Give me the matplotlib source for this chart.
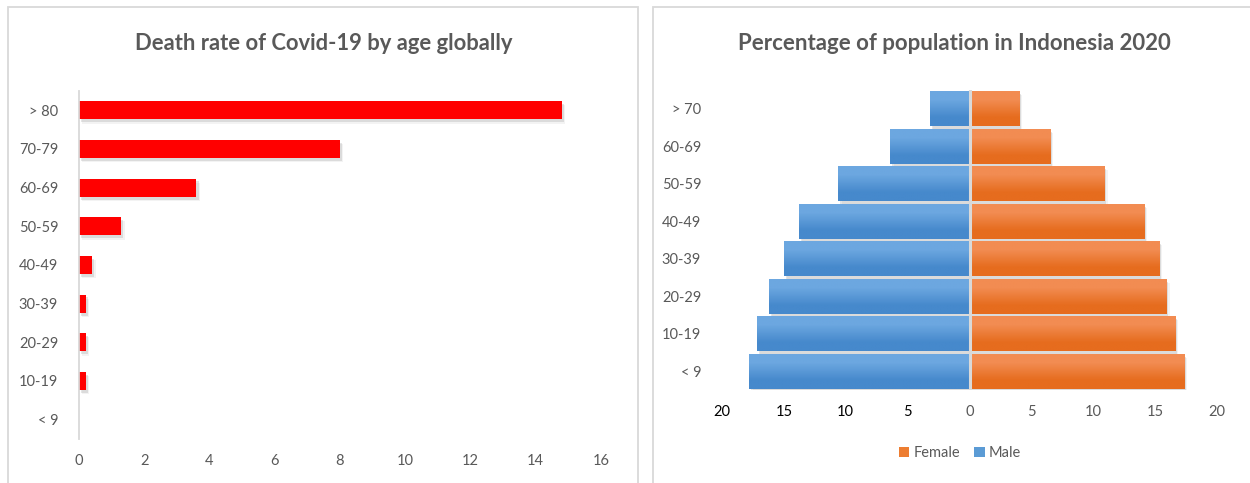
import matplotlib.pyplot as plt
import matplotlib.patheffects as pe
import numpy as np
from matplotlib.patches import Rectangle

plt.rcParams['font.family'] = ['Lato', 'DejaVu Sans']

# death rate (%) by age group, listed bottom to top
death_groups = ["< 9", "10-19", "20-29", "30-39", "40-49", "50-59", "60-69", "70-79", "> 80"]
death_rate = [0.0, 0.2, 0.2, 0.2, 0.4, 1.3, 3.6, 8.0, 14.8]

# Indonesia 2020 population share (%) by age group, bottom to top
pop_groups = ["< 9", "10-19", "20-29", "30-39", "40-49", "50-59", "60-69", "> 70"]
male_pct = [17.8, 17.2, 16.2, 15.0, 13.8, 10.6, 6.4, 3.2]
female_pct = [17.3, 16.6, 15.9, 15.3, 14.1, 10.9, 6.5, 4.0]

death_ticks = [0, 2, 4, 6, 8, 10, 12, 14, 16]
pop_ticks = [-20, -15, -10, -5, 0, 5, 10, 15, 20]

GREY_TEXT = "#595959"
GRID_GREY = "#d9d9d9"
W, H = 1250, 483

fig = plt.figure(figsize=(W / 100, H / 100), dpi=100)


def px_axes(x0, y0, x1, y1):
    return fig.add_axes([x0 / W, 1 - y1 / H, (x1 - x0) / W, (y1 - y0) / H])


def soft_shadow():
    return [pe.SimplePatchShadow(offset=(1.5, -2), shadow_rgbFace="#8c8c8c", alpha=0.22),
            pe.SimplePatchShadow(offset=(2.5, -3), shadow_rgbFace="#8c8c8c", alpha=0.10),
            pe.Normal()]


def gradient_fill(ax, bars, top, bottom):
    img = np.array([[top], [bottom]], dtype=float) / 255.0
    for b in bars:
        x, y = b.get_x(), b.get_y()
        w, h = b.get_width(), b.get_height()
        if w == 0:
            continue
        ax.imshow(img, extent=(x, x + w, y, y + h), origin="upper",
                  aspect="auto", interpolation="bilinear", zorder=3)


# chart frames
for x0, x1 in [(8, 638), (653, 1262)]:
    fig.patches.append(Rectangle((x0 / W, -0.05), (x1 - x0) / W, 1.05 - 7.5 / H,
                                 transform=fig.transFigure, fill=False,
                                 edgecolor=GRID_GREY, linewidth=1.3))

# left: death rate
ax1 = px_axes(79, 91, 601, 439)
y1 = np.arange(len(death_groups))
ax1.barh(y1, death_rate, height=0.47, color="#ff0000", zorder=2,
         path_effects=soft_shadow())
ax1.set_xlim(0, 16)
ax1.set_ylim(-0.5, len(death_groups) - 0.5)
ax1.set_yticks(y1, death_groups)
ax1.set_xticks(death_ticks, [str(t) for t in death_ticks])
for s in ["top", "right", "bottom"]:
    ax1.spines[s].set_visible(False)
ax1.spines["left"].set_color(GRID_GREY)
ax1.spines["left"].set_linewidth(1.3)
ax1.tick_params(length=0, labelsize=10.5, labelcolor=GREY_TEXT)
ax1.tick_params(axis="y", pad=15)
ax1.tick_params(axis="x", pad=11)
fig.text(324 / W, 1 - 43 / H, "Death rate of Covid-19 by age globally",
         ha="center", va="center", fontsize=15.8, fontweight="bold", color=GREY_TEXT)

# right: population pyramid
ax2 = px_axes(722, 90, 1217, 390)
y2 = np.arange(len(pop_groups))
m_bars = ax2.barh(y2, [-v for v in male_pct], height=0.93, color="#5b9bd5",
                  zorder=2, path_effects=soft_shadow(), label="Male")
f_bars = ax2.barh(y2, female_pct, height=0.93, color="#ed7d31",
                  zorder=2, path_effects=soft_shadow(), label="Female")
gradient_fill(ax2, m_bars, (108, 167, 224), (70, 137, 204))
gradient_fill(ax2, f_bars, (242, 140, 82), (230, 108, 30))
ax2.axvline(0, color=GRID_GREY, linewidth=2.2, zorder=4)
ax2.set_xlim(-20, 20)
ax2.set_ylim(-0.5, len(pop_groups) - 0.5)
ax2.set_yticks(y2, pop_groups)
ax2.set_xticks(pop_ticks, [str(abs(t)) for t in pop_ticks])
for s in ax2.spines.values():
    s.set_visible(False)
ax2.tick_params(length=0, labelsize=10.5, labelcolor=GREY_TEXT)
ax2.tick_params(axis="y", pad=15)
ax2.tick_params(axis="x", pad=11)
for lbl, t in zip(ax2.get_xticklabels(), pop_ticks):
    if t < 0:
        lbl.set_color("#000000")
fig.text(954 / W, 1 - 43 / H, "Percentage of population in Indonesia 2020",
         ha="center", va="center", fontsize=16, fontweight="bold", color=GREY_TEXT)

leg = ax2.legend(handles=[f_bars, m_bars], labels=["Female", "Male"],
                 loc="center", bbox_to_anchor=(960 / W, 1 - 453 / H),
                 bbox_transform=fig.transFigure, ncol=2, frameon=False,
                 fontsize=10.5, handlelength=0.7, handleheight=0.7,
                 handletextpad=0.3, columnspacing=1.0)
for t in leg.get_texts():
    t.set_color(GREY_TEXT)
for h in leg.legend_handles:
    h.set_path_effects([pe.Normal()])

fig.savefig("out.png", dpi=100)
